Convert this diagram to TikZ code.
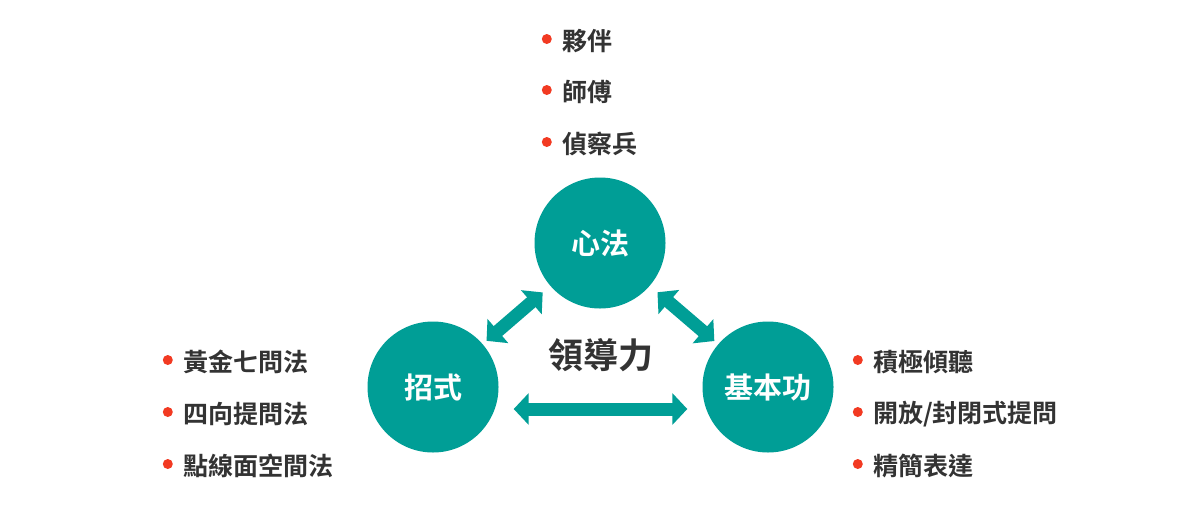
\documentclass[tikz,border=0pt]{standalone}
\usepackage{fontspec}
\usepackage{xcolor}
\newfontfamily\cjk{Noto Sans CJK TC}[BoldFont={Noto Sans CJK TC Bold}]
\definecolor{ldteal}{HTML}{009E96}
\definecolor{ldred}{HTML}{F23A22}
\definecolor{ldtext}{HTML}{333333}
\usetikzlibrary{arrows.meta,positioning}
\tikzset{
  ldcircle/.style={circle,fill=ldteal,minimum size=131pt,inner sep=0pt,text=white,font=\cjk\bfseries\fontsize{29}{33}\selectfont},
  ldflow/.style={{Triangle[width=31pt,length=15pt]}-{Triangle[width=31pt,length=15pt]},line width=13pt,draw=ldteal},
  lditem/.style={anchor=west,inner sep=0pt,text=ldtext,font=\cjk\bfseries\fontsize{25}{29}\selectfont},
  lddot/.style={circle,fill=ldred,minimum size=10pt,inner sep=0pt},
}
\begin{document}
\begin{tikzpicture}[x=1pt,y=-1pt]
\useasboundingbox[fill=white](0,0) rectangle (1201,512);
\node[ldcircle](xinfa) at (600,243){心法};
\node[ldcircle](zhaoshi) at (433,387){招式};
\node[ldcircle](jiben) at (768,387){基本功};
\node[text=ldtext,font=\cjk\bfseries\fontsize{35}{39}\selectfont](lead) at (601,355){領導力};
\draw[ldflow,shorten <=10pt,shorten >=5pt](xinfa)--(zhaoshi);
\draw[ldflow,shorten <=10pt,shorten >=5pt](xinfa)--(jiben);
\draw[ldflow,shorten <=15pt,shorten >=15pt]([yshift=-22pt]zhaoshi.east)--([yshift=-22pt]jiben.west);
% top list
\node[lditem](t1) at (562,41){夥伴};
\node[lditem](t2) at (562,92){師傅};
\node[lditem](t3) at (562,144){偵察兵};
% left list
\node[lditem](l1) at (183,362){黃金七問法};
\node[lditem](l2) at (183,414){四向提問法};
\node[lditem](l3) at (183,466){點線面空間法};
% right list
\node[lditem](r1) at (873,362){積極傾聽};
\node[lditem](r2) at (873,414){開放/封閉式提問};
\node[lditem](r3) at (873,466){精簡表達};
\foreach \n in {t1,t2,t3,l1,l2,l3,r1,r2,r3}
  \node[lddot,left=10pt of \n.west,yshift=2pt]{};
\end{tikzpicture}
\end{document}
